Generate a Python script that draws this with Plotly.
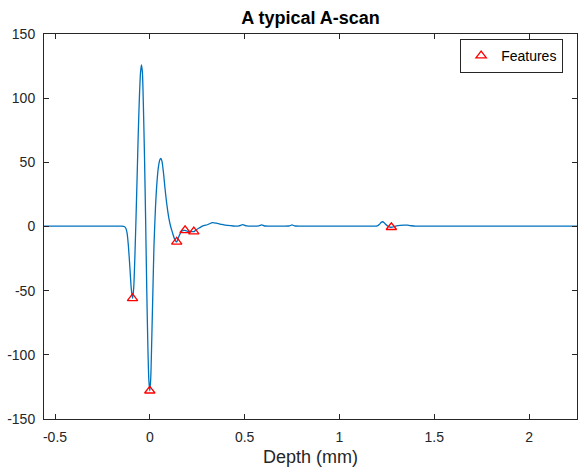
import plotly.graph_objects as go

# A-scan waveform (depth in mm, amplitude)
depth = [-0.558, -0.30, -0.15, -0.135, -0.126, -0.12, -0.113, -0.105, -0.098, -0.091,
         -0.085, -0.079, -0.073, -0.067, -0.061, -0.055, -0.049, -0.044, -0.039, -0.034,
         -0.028, -0.022, -0.016, -0.010, -0.005, 0.0, 0.005, 0.010, 0.016, 0.022,
         0.030, 0.038, 0.046, 0.053, 0.058, 0.064, 0.072, 0.080, 0.090, 0.100,
         0.110, 0.120, 0.130, 0.137, 0.142, 0.150, 0.160, 0.170, 0.180, 0.186,
         0.195, 0.205, 0.215, 0.225, 0.233, 0.245, 0.26, 0.28, 0.295, 0.31,
         0.33, 0.35, 0.38, 0.41, 0.44, 0.47, 0.49, 0.51, 0.55, 0.575,
         0.59, 0.605, 0.64, 0.70, 0.735, 0.75, 0.765, 0.80, 0.90, 1.00,
         1.10, 1.18, 1.20, 1.21, 1.22, 1.228, 1.236, 1.245, 1.255, 1.265,
         1.274, 1.285, 1.30, 1.32, 1.34, 1.36, 1.38, 1.40, 1.45, 1.60,
         1.80, 2.00, 2.253]
amplitude = [0.3, 0.3, 0.3, 0.0, -1.5, -5, -15, -32, -48, -56,
             -48, -25, 5, 38, 72, 100, 120, 126, 120, 95,
             55, 5, -50, -95, -120, -128, -118, -90, -52, -15,
             15, 35, 47, 52, 53, 51, 42, 30, 17, 7,
             0, -5, -9.5, -11.5, -12, -9, -5.5, -3.5, -3, -3,
             -3.5, -4, -4, -4, -4, -2.5, -1.2, 0.5, 1, 1.8,
             3, 2.6, 1.6, 0.8, 0.4, 0.5, 1.4, 0.5, 0.3, 0.5,
             1.3, 0.4, 0.3, 0.3, 0.4, 1.2, 0.4, 0.3, 0.3, 0.3,
             0.3, 0.3, 0.5, 1.5, 3.2, 3.7, 3.0, 1.5, 0.3, -0.4,
             -0.6, -0.3, 0.4, 0.9, 1.0, 1.0, 0.6, 0.3, 0.3, 0.3,
             0.3, 0.3, 0.3]

# Detected features
feat_depth = [-0.091, 0.0, 0.142, 0.186, 0.232, 1.274]
feat_amp = [-56, -128, -12, -3, -4, -0.6]

x_ticks = [-0.5, 0, 0.5, 1, 1.5, 2]
x_labels = ["-0.5", "0", "0.5", "1", "1.5", "2"]
y_ticks = [-150, -100, -50, 0, 50, 100, 150]
y_labels = ["-150", "-100", "-50", "0", "50", "100", "150"]

FONT = "Liberation Sans, Arial"

fig = go.Figure()
fig.add_trace(go.Scatter(x=depth, y=amplitude, mode="lines",
                         line=dict(color="#0072BD", width=1.3, shape="spline", smoothing=0.6),
                         showlegend=False, hoverinfo="skip"))
fig.add_trace(go.Scatter(x=feat_depth, y=feat_amp, mode="markers", name="Features",
                         marker=dict(symbol="triangle-up-open", size=9, color="#FF0000",
                                     line=dict(width=1.3, color="#FF0000"))))

axis_common = dict(showgrid=False, zeroline=False, showline=True, linecolor="#262626",
                   linewidth=1, mirror="ticks", ticks="inside", ticklen=5, tickwidth=1,
                   tickcolor="#262626", ticklabelstandoff=5,
                   tickfont=dict(family=FONT, size=14, color="#262626"))

fig.update_layout(
    width=578, height=469,
    margin=dict(l=44, r=1, t=34, b=50, autoexpand=False),
    paper_bgcolor="white", plot_bgcolor="white",
    title=dict(text="<b>A typical A-scan</b>", x=0.5, xref="paper", xanchor="center",
               y=0.962, yref="container", yanchor="middle",
               font=dict(family=FONT, size=18, color="#000000")),
    xaxis=dict(range=[-0.558, 2.253], tickvals=x_ticks, ticktext=x_labels,
               title=dict(text="Depth (mm)", standoff=6,
                          font=dict(family=FONT, size=18, color="#262626")),
               **axis_common),
    yaxis=dict(range=[-150, 150], tickvals=y_ticks, ticktext=y_labels, **axis_common),
    legend=dict(x=0.974, xanchor="right", y=0.943, yanchor="middle",
                bgcolor="white", bordercolor="#262626", borderwidth=1,
                font=dict(family=FONT, size=14, color="#000000"),
                tracegroupgap=0, itemwidth=30),
)

fig.write_html("out.html", config={"displayModeBar": False},
               post_script="document.body.style.margin='0';document.body.style.overflow='hidden';")
